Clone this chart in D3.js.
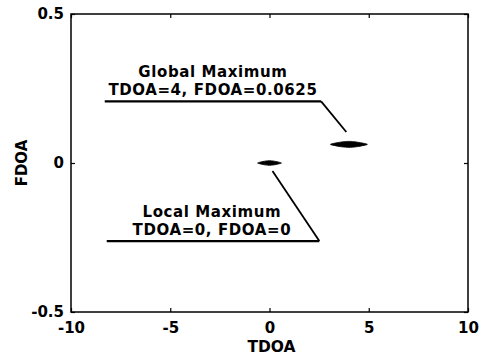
<!DOCTYPE html>
<html>
<head>
<meta charset="utf-8">
<script src="https://cdn.jsdelivr.net/npm/d3@7"></script>
<style>
  html, body { margin: 0; padding: 0; background: #fff; }
  svg { display: block; }
  text { font-family: "DejaVu Sans", sans-serif; font-weight: bold; fill: #000; }
</style>
</head>
<body>
<svg id="chart" width="489" height="355"></svg>
<script>
// ---- data ----
const xDomain = [-10, 10];
const yDomain = [-0.5, 0.5];
const xTickValues = [-10, -5, 0, 5, 10];
const xTickLabels = ["-10", "-5", "0", "5", "10"];
const yTickValues = [-0.5, 0, 0.5];
const yTickLabels = ["-0.5", "0", "0.5"];
const xLabel = "TDOA";
const yLabel = "FDOA";

// peaks: [TDOA, FDOA, half-width in TDOA]
const peakNames = ["Global Maximum", "Local Maximum"];
const peakTDOA = [4, 0];
const peakFDOA = [0.0625, 0];
const peakHalfWidth = [0.93, 0.6];

// annotation text lines
const annTitles = ["Global Maximum", "Local Maximum"];
const annSubtitles = ["TDOA=4, FDOA=0.0625", "TDOA=0, FDOA=0"];
// annotation anchor (text centre x, underline y) and leader endpoints in data units
const annCenterX = [-2.85, -2.9];
const annUnderlineY = [0.207, -0.262];
const annUnderlineX0 = [-8.3, -8.2];
const annUnderlineX1 = [2.6, 2.51];
const annLeaderEndX = [3.87, 0.15];
const annLeaderEndY = [0.104, -0.027];

// ---- layout ----
const W = 489, H = 355;
const margin = { left: 71, right: 21, top: 14, bottom: 43 };
const svg = d3.select("#chart");
const iw = W - margin.left - margin.right;
const ih = H - margin.top - margin.bottom;

const x = d3.scaleLinear().domain(xDomain).range([margin.left, margin.left + iw]);
const y = d3.scaleLinear().domain(yDomain).range([margin.top + ih, margin.top]);

// frame
svg.append("rect")
  .attr("x", x(xDomain[0])).attr("y", y(yDomain[1]))
  .attr("width", iw).attr("height", ih)
  .attr("fill", "none").attr("stroke", "#000").attr("stroke-width", 1.5);

function styleAxis(g) {
  g.select(".domain").remove();
  g.selectAll(".tick line").attr("stroke", "#000").attr("stroke-width", 1.2);
  g.selectAll(".tick text").attr("font-size", "15px").attr("font-family", "DejaVu Sans").attr("font-weight", "bold").attr("fill", "#000");
}

const xFmt = v => xTickLabels[xTickValues.indexOf(v)];
const yFmt = v => yTickLabels[yTickValues.indexOf(v)];

svg.append("g")
  .attr("transform", `translate(0,${y(yDomain[0])})`)
  .call(d3.axisBottom(x).tickValues(xTickValues).tickFormat(xFmt).tickSizeInner(-4).tickSizeOuter(0).tickPadding(10))
  .call(styleAxis);
svg.append("g")
  .attr("transform", `translate(0,${y(yDomain[1])})`)
  .call(d3.axisTop(x).tickValues(xTickValues).tickFormat("").tickSizeInner(-4).tickSizeOuter(0))
  .call(styleAxis);
svg.append("g")
  .attr("transform", `translate(${x(xDomain[0])},0)`)
  .call(d3.axisLeft(y).tickValues(yTickValues).tickFormat(yFmt).tickSizeInner(-4).tickSizeOuter(0).tickPadding(7))
  .call(styleAxis);
svg.append("g")
  .attr("transform", `translate(${x(xDomain[1])},0)`)
  .call(d3.axisRight(y).tickValues(yTickValues).tickFormat("").tickSizeInner(-4).tickSizeOuter(0))
  .call(styleAxis);

// axis labels
svg.append("text")
  .attr("x", x(0) + 2).attr("y", 352)
  .attr("text-anchor", "middle").attr("font-size", "15.5px")
  .text(xLabel);
svg.append("text")
  .attr("transform", `translate(27,${y(0)}) rotate(-90)`)
  .attr("text-anchor", "middle").attr("font-size", "15px")
  .text(yLabel);

// peaks (thin lens-shaped blobs)
const peaks = svg.append("g");
peakTDOA.forEach((t, i) => {
  const cx = x(t), cy = y(peakFDOA[i]);
  const hw = x(t + peakHalfWidth[i]) - cx;
  const hh = i === 0 ? 3 : 2.3;
  const pts = [[cx - hw, cy], [cx - hw * 0.4, cy - hh * 0.8], [cx, cy - hh], [cx + hw * 0.4, cy - hh * 0.8], [cx + hw, cy],
               [cx + hw * 0.4, cy + hh * 0.8], [cx, cy + hh], [cx - hw * 0.4, cy + hh * 0.8]];
  peaks.append("path")
    .attr("d", d3.line().curve(d3.curveCardinalClosed.tension(0.3))(pts))
    .attr("fill", "#000").attr("stroke", "#000").attr("stroke-width", 0.8);
});

// annotations
const ann = svg.append("g");
annTitles.forEach((title, i) => {
  const uy = y(annUnderlineY[i]);
  const cx = x(annCenterX[i]);
  ann.append("text")
    .attr("x", cx).attr("y", uy - 24)
    .attr("text-anchor", "middle").attr("font-size", "15px")
    .attr("letter-spacing", "0.6px")
    .text(title);
  ann.append("text")
    .attr("x", cx).attr("y", uy - 6)
    .attr("text-anchor", "middle").attr("font-size", "15px")
    .attr("letter-spacing", "0.6px")
    .text(annSubtitles[i]);
  ann.append("line")
    .attr("x1", x(annUnderlineX0[i])).attr("x2", x(annUnderlineX1[i]))
    .attr("y1", uy).attr("y2", uy)
    .attr("stroke", "#000").attr("stroke-width", 2.2);
  ann.append("line")
    .attr("x1", x(annUnderlineX1[i])).attr("y1", uy)
    .attr("x2", x(annLeaderEndX[i])).attr("y2", y(annLeaderEndY[i]))
    .attr("stroke", "#000").attr("stroke-width", 1.8);
});
</script>
</body>
</html>
